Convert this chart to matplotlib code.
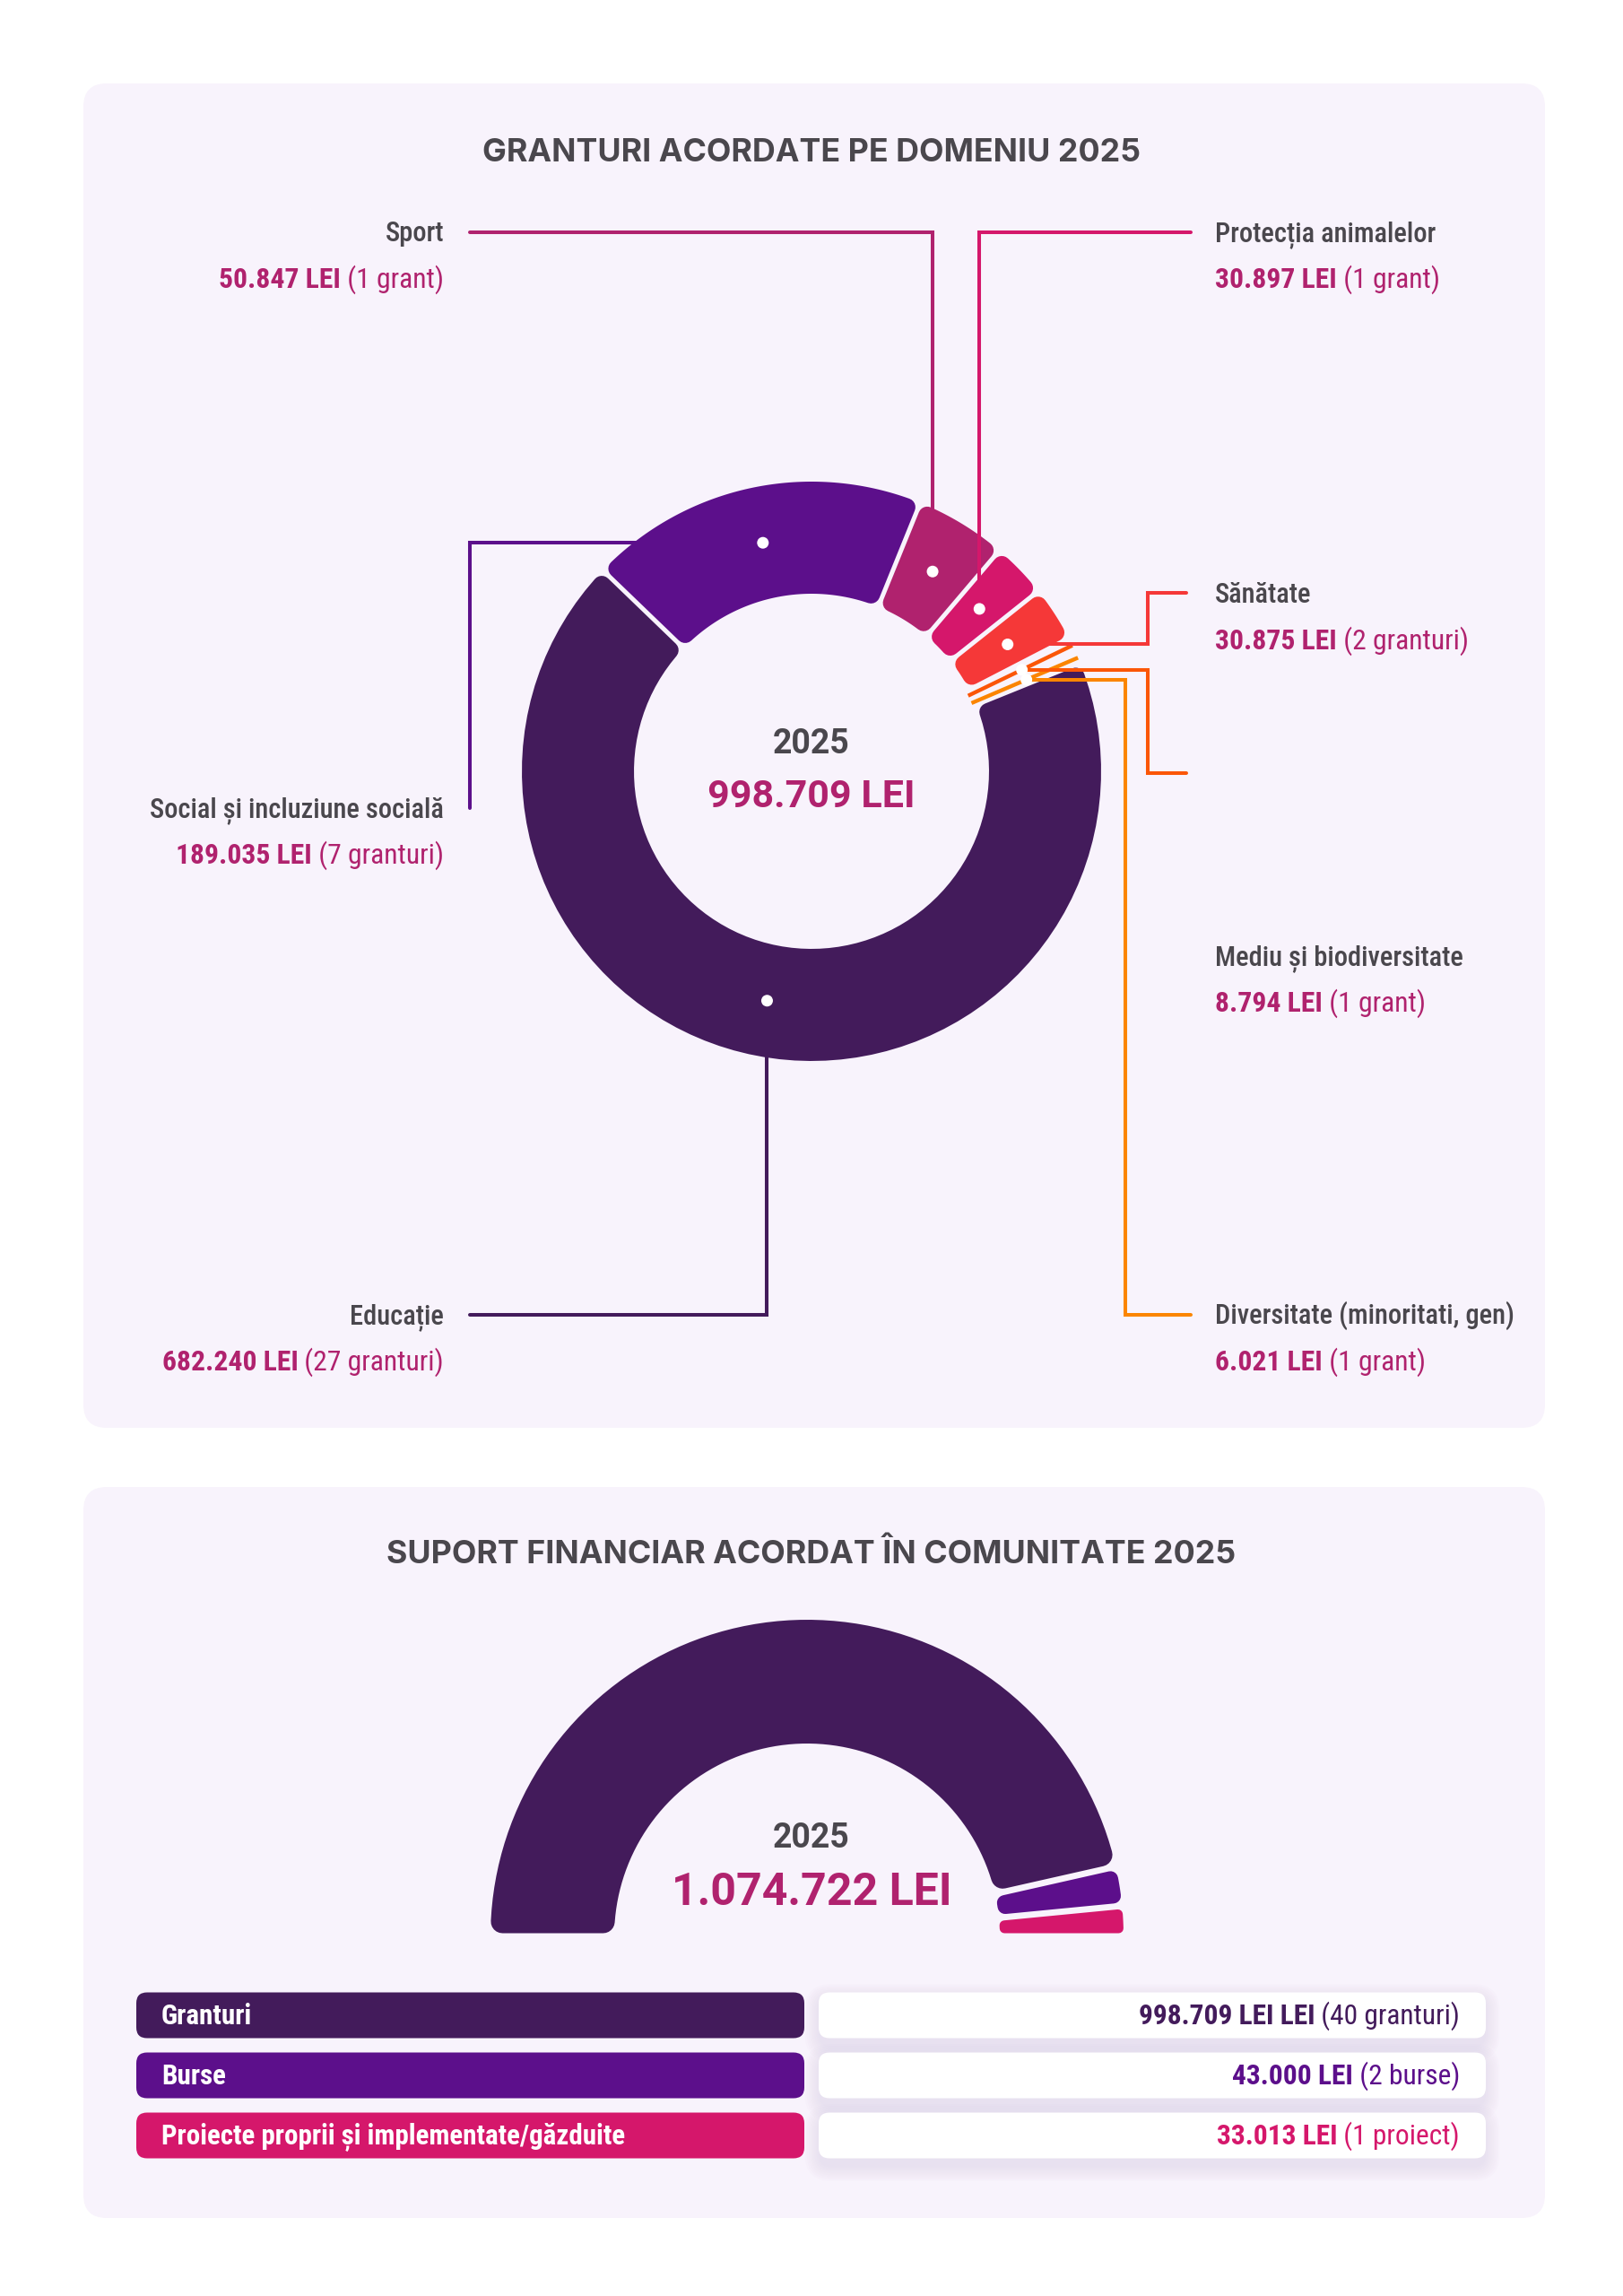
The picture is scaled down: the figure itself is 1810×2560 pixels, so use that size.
import numpy as np
import matplotlib
matplotlib.use("Agg")
import matplotlib.pyplot as plt
from matplotlib import font_manager as fm
from matplotlib.patches import FancyBboxPatch, Polygon, Circle

# ---- date ----
domenii = ["Educație", "Social și incluziune socială", "Sport", "Protecția animalelor",
           "Sănătate", "Mediu și biodiversitate", "Diversitate (minoritati, gen)"]
sume = [682240, 189035, 50847, 30897, 30875, 8794, 6021]
nr_granturi = [27, 7, 1, 1, 2, 1, 1]
culori = ["#431b5b", "#5c0f8b", "#b0226e", "#d5176b", "#f53838", "#fb5607", "#fb8500"]

tipuri = ["Granturi", "Burse", "Proiecte proprii și implementate/găzduite"]
sume_suport = [998709, 43000, 33013]
valori_suport = ["998.709 LEI LEI", "43.000 LEI", "33.013 LEI"]
detalii_suport = ["(40 granturi)", "(2 burse)", "(1 proiect)"]
culori_suport = ["#431b5b", "#5c0f8b", "#d5176b"]

an = "2025"

W, H = 1810, 2560
GRI = "#4a474d"
MAGENTA = "#b0226e"
CARD = "#f8f3fc"

names = {f.name for f in fm.fontManager.ttflist}
COND = next((n for n in ["Roboto Condensed", "Liberation Sans Narrow", "Roboto"] if n in names),
            "DejaVu Sans")
MAIN = "Roboto" if "Roboto" in names else "DejaVu Sans"
if "Inter" in names:
    TITLE, TSIZE = "Inter", 25.8
else:
    TITLE, TSIZE = MAIN, 28.3


def lei(v):
    return f"{v:,}".replace(",", ".") + " LEI"


fig = plt.figure(figsize=(W / 100, H / 100), dpi=100)
ax = fig.add_axes([0, 0, 1, 1])
ax.set_xlim(0, W)
ax.set_ylim(H, 0)
ax.axis("off")
fig.patch.set_facecolor("white")
rend = fig.canvas.get_renderer()


def card(x0, y0, x1, y1):
    ax.add_patch(FancyBboxPatch((x0, y0), x1 - x0, y1 - y0,
                                boxstyle="round,pad=0,rounding_size=26",
                                fc=CARD, ec="none", zorder=0))


def ring_piece(cx, cy, r_in, r_out, a_start, a_end, color, gap, corner):
    # a_start > a_end, grade, sens orar
    s, e = np.radians(a_start), np.radians(a_end)
    span = (s - e) * r_in
    corner = min(corner, (span - gap - 3) / 2)
    if corner < 2:
        # felie foarte subtire -> fasie ingusta pe mijloc
        m = (s + e) / 2
        t = 2.2
        pts = [(r_out, m + np.arcsin(t / r_out)), (r_out, m - np.arcsin(t / r_out)),
               (r_in - 4, m - np.arcsin(t / r_in)), (r_in - 4, m + np.arcsin(t / r_in))]
        xy = [(cx + r * np.cos(a), cy - r * np.sin(a)) for r, a in pts]
        ax.add_patch(Polygon(xy, closed=True, fc=color, ec="none", zorder=2))
        return
    d = gap / 2 + corner
    ro, ri = r_out - corner, r_in + corner
    ao = np.linspace(s - np.arcsin(d / ro), e + np.arcsin(d / ro), 80)
    ai = np.linspace(e + np.arcsin(d / ri), s - np.arcsin(d / ri), 80)
    xs = np.concatenate([cx + ro * np.cos(ao), cx + ri * np.cos(ai)])
    ys = np.concatenate([cy - ro * np.sin(ao), cy - ri * np.sin(ai)])
    ax.add_patch(Polygon(np.column_stack([xs, ys]), closed=True, fc=color, ec=color,
                         lw=corner * 2 * 0.72, joinstyle="round", zorder=2))


def two_part(x, y, bold, normal, color, ha, size=22.8):
    kw = dict(color=color, fontsize=size, family=COND, va="baseline", zorder=6)
    if ha == "right":
        t2 = ax.text(x, y, " " + normal, ha="right", **kw)
        w = t2.get_window_extent(rend).width
        ax.text(x - w, y, bold, ha="right", weight="bold", **kw)
    else:
        t1 = ax.text(x, y, bold, ha="left", weight="bold", **kw)
        w = t1.get_window_extent(rend).width
        ax.text(x + w, y, " " + normal, ha="left", **kw)


# ================= card 1 =================
card(93, 93, 1723, 1592)
ax.text(905, 170, "GRANTURI ACORDATE PE DOMENIU " + an, ha="center", va="center",
        fontsize=TSIZE, weight="bold", color=GRI, family=TITLE)

cx, cy, r_in, r_out = 905, 860, 198, 323
start = 22.0
total = sum(sume)
ang = start - 360 * np.concatenate([[0], np.cumsum(sume)]) / total

dots = []
for i, c in enumerate(culori):
    ring_piece(cx, cy, r_in, r_out, ang[i], ang[i + 1], c, gap=5, corner=10)
    m = np.radians((ang[i] + ang[i + 1]) / 2)
    rm = (r_in + r_out) / 2
    dots.append((cx + rm * np.cos(m), cy - rm * np.sin(m)))

# trasee linii de legatura (layout)
rute = [
    [("v", 1466), ("h", 524)],
    [("h", 524), ("v", 901)],
    [("v", 259), ("h", 524)],
    [("v", 259), ("h", 1328)],
    [("h", 1280), ("v", 661), ("h", 1323)],
    [("h", 1280), ("v", 862), ("h", 1323)],
    [("h", 1255), ("v", 1466), ("h", 1328)],
]
eticheta = [("left", 1466), ("left", 901), ("left", 259), ("right", 259),
            ("right", 662), ("right", 1066), ("right", 1466)]

for i in range(len(domenii)):
    x, y = dots[i]
    px, py = [x], [y]
    for k, v in rute[i]:
        if k == "v":
            y = v
        else:
            x = v
        px.append(x)
        py.append(y)
    ax.plot(px, py, color=culori[i], lw=2.9, solid_capstyle="round",
            solid_joinstyle="miter", zorder=3)
for i in range(len(domenii) - 1, -1, -1):
    ax.add_patch(Circle(dots[i], 6.5, fc="white", ec="none", zorder=4))

for i, nume in enumerate(domenii):
    side, yl = eticheta[i]
    n = nr_granturi[i]
    cnt = f"({n} grant)" if n == 1 else f"({n} granturi)"
    if side == "left":
        ax.text(495, yl + 10, nume, ha="right", va="baseline", fontsize=22,
                family=COND, color=GRI, weight="medium", zorder=6)
        two_part(495, yl + 62, lei(sume[i]), cnt, MAGENTA, "right")
    else:
        ax.text(1355, yl + 10, nume, ha="left", va="baseline", fontsize=22,
                family=COND, color=GRI, weight="medium", zorder=6)
        two_part(1355, yl + 62, lei(sume[i]), cnt, MAGENTA, "left")

ax.text(905, 830, an, ha="center", va="center", fontsize=27, weight="bold",
        color=GRI, family=MAIN, zorder=6)
ax.text(905, 889, lei(total), ha="center", va="center", fontsize=31, weight="bold",
        color=MAGENTA, family=MAIN, zorder=6)

# ================= card 2 =================
card(93, 1658, 1723, 2473)
ax.text(905, 1733, "SUPORT FINANCIAR ACORDAT ÎN COMUNITATE " + an, ha="center",
        va="center", fontsize=TSIZE, weight="bold", color=GRI, family=TITLE)

hx, hy, h_in, h_out = 900, 2159, 215, 353
tot2 = sum(sume_suport)
ang2 = 180 - 180 * np.concatenate([[0], np.cumsum(sume_suport)]) / tot2
for i, c in enumerate(culori_suport):
    ring_piece(hx, hy, h_in, h_out, ang2[i], ang2[i + 1], c, gap=7, corner=13)

ax.text(905, 2050, an, ha="center", va="center", fontsize=27, weight="bold",
        color=GRI, family=MAIN, zorder=6)
ax.text(905, 2110, lei(tot2), ha="center", va="center", fontsize=36, weight="bold",
        color=MAGENTA, family=MAIN, zorder=6)

row_y = [2247, 2314, 2381]
for i, tip in enumerate(tipuri):
    yc = row_y[i]
    ax.add_patch(FancyBboxPatch((152, yc - 25.5), 745, 51,
                                boxstyle="round,pad=0,rounding_size=12",
                                fc=culori_suport[i], ec="none", zorder=2))
    ax.text(180, yc + 10, tip, ha="left", va="baseline", fontsize=22.3, weight="bold",
            color="white", family=COND, zorder=6)
    # umbra
    for k in range(8):
        g = 2 + k * 2.2
        ax.add_patch(FancyBboxPatch((913 - g + 2, yc - 25.5 - g + 8), 744 + 2 * g - 4, 51 + 2 * g,
                                    boxstyle=f"round,pad=0,rounding_size={12 + g}",
                                    fc="#b9a6d0", ec="none", alpha=0.028, zorder=1))
    ax.add_patch(FancyBboxPatch((913, yc - 25.5), 744, 51,
                                boxstyle="round,pad=0,rounding_size=12",
                                fc="white", ec="none", zorder=2))
    two_part(1628, yc + 10, valori_suport[i], detalii_suport[i], culori_suport[i], "right",
             size=22.7)

fig.savefig("out.png", dpi=100, facecolor="white")
